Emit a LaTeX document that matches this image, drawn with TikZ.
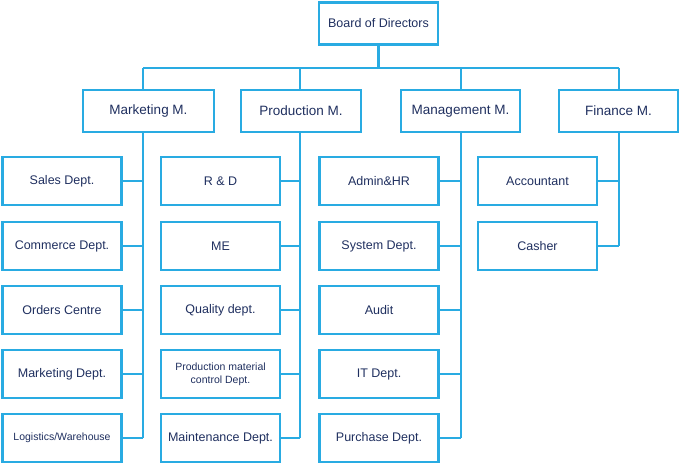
\documentclass[tikz,border=0pt]{standalone}
\usepackage{fontspec}
\setmainfont{Liberation Sans}
\definecolor{cy}{HTML}{29ABE2}
\definecolor{tx}{HTML}{1F2F5F}
\begin{document}
\begin{tikzpicture}[x=1pt,y=-1pt,
  bx/.style={draw=cy,line width=2.8pt,minimum width=119pt,minimum height=48pt,inner sep=1pt,text=tx,font=\fontsize{12.5}{14}\selectfont,align=center},
  mg/.style={bx,minimum height=42pt,font=\fontsize{13.5}{15}\selectfont},
  ln/.style={draw=cy,line width=2.8pt}]
\useasboundingbox (0,0) rectangle (680,465);
\node[mg,minimum width=119pt,font=\fontsize{12.5}{14}\selectfont] (bod) at (378.5,23.5) {Board of Directors};
\node[mg,minimum width=131pt] (m1) at (148.5,111) {Marketing M.};
\node[mg,minimum width=120pt] (m2) at (301,111) {Production M.};
\node[mg,minimum width=119pt] (m3) at (460.5,111) {Management M.};
\node[mg,minimum width=119pt] (m4) at (618.5,111) {Finance M.};
\coordinate (bus) at (378.5,68);
\draw[ln] (bod.south) -- (bus);
\draw[ln] (143,68) -- (619,68);
\foreach \x/\m in {143/m1,300/m2,461/m3,619/m4}
  \draw[ln] (\x,68) -- (\x,90);
\node[bx] (a1) at (62,181) {Sales Dept.};
\node[bx] (a2) at (62,246) {Commerce Dept.};
\node[bx] (a3) at (62,310) {Orders Centre};
\node[bx] (a4) at (62,374) {Marketing Dept.};
\node[bx,font=\fontsize{10.5}{12}\selectfont] (a5) at (62,438) {Logistics/Warehouse};
\node[bx] (b1) at (220.5,181) {R \& D};
\node[bx] (b2) at (220.5,246) {ME};
\node[bx] (b3) at (220.5,310) {Quality dept.};
\node[bx,font=\fontsize{10.5}{13}\selectfont] (b4) at (220.5,374) {Production material\\control Dept.};
\node[bx] (b5) at (220.5,438) {Maintenance Dept.};
\node[bx] (c1) at (379,181) {Admin\&HR};
\node[bx] (c2) at (379,246) {System Dept.};
\node[bx] (c3) at (379,310) {Audit};
\node[bx] (c4) at (379,374) {IT Dept.};
\node[bx] (c5) at (379,438) {Purchase Dept.};
\node[bx] (d1) at (537.5,181) {Accountant};
\node[bx] (d2) at (537.5,246) {Casher};
\draw[ln] (143,132) -- (143,438);
\draw[ln] (300,132) -- (300,438);
\draw[ln] (461,132) -- (461,438);
\draw[ln] (619,132) -- (619,246);
\foreach \i in {1,...,5}{
  \draw[ln] (a\i.east) -- (143,0|-a\i.east);
  \draw[ln] (b\i.east) -- (300,0|-b\i.east);
  \draw[ln] (c\i.east) -- (461,0|-c\i.east);}
\foreach \i in {1,2}
  \draw[ln] (d\i.east) -- (619,0|-d\i.east);
\end{tikzpicture}
\end{document}
